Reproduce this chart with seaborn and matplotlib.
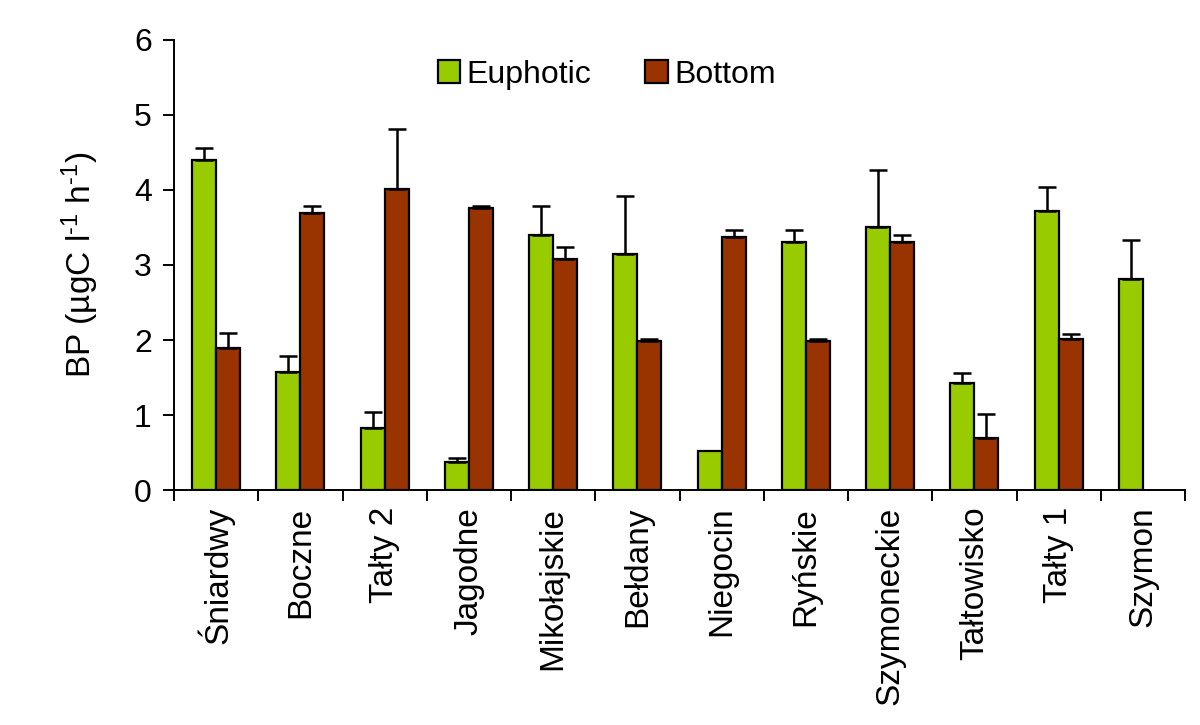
import numpy as np
import pandas as pd
import matplotlib
matplotlib.use("Agg")
import matplotlib.pyplot as plt
from matplotlib.ticker import FixedLocator, NullFormatter
import seaborn as sns

lakes = ["Śniardwy", "Boczne", "Tałty 2", "Jagodne", "Mikołajskie", "Bełdany",
         "Niegocin", "Ryńskie", "Szymoneckie", "Tałtowisko", "Tałty 1", "Szymon"]
euphotic = [4.40, 1.57, 0.83, 0.37, 3.40, 3.15, 0.52, 3.31, 3.50, 1.43, 3.72, 2.81]
euphotic_err = [0.16, 0.22, 0.21, 0.06, 0.39, 0.77, 0.0, 0.16, 0.77, 0.13, 0.32, 0.52]
bottom = [1.89, 3.69, 4.01, 3.76, 3.08, 1.99, 3.37, 1.99, 3.30, 0.69, 2.01, np.nan]
bottom_err = [0.21, 0.10, 0.80, 0.03, 0.16, 0.03, 0.10, 0.03, 0.10, 0.32, 0.07, np.nan]
series = ["Euphotic", "Bottom"]
colors = ["#99CC00", "#993300"]

sns.set_theme(style="white")
plt.rcParams["font.family"] = ["Liberation Sans", "DejaVu Sans"]
plt.rcParams["mathtext.fontset"] = "custom"
plt.rcParams["mathtext.rm"] = "Liberation Sans"
plt.rcParams["mathtext.it"] = "Liberation Sans"
plt.rcParams["text.color"] = "black"
plt.rcParams["xtick.color"] = "black"
plt.rcParams["ytick.color"] = "black"
plt.rcParams["axes.labelcolor"] = "black"

df = pd.DataFrame({
    "lake": lakes * 2,
    "value": euphotic + bottom,
    "err": euphotic_err + bottom_err,
    "series": [series[0]] * len(lakes) + [series[1]] * len(lakes),
})

fig = plt.figure(figsize=(12, 7.25), dpi=100)
ax = fig.add_axes([0.145, 0.324, 0.8425, 0.621])

sns.barplot(data=df, x="lake", y="value", hue="series", order=lakes,
            hue_order=series, palette=colors, width=0.57, gap=0,
            edgecolor="black", linewidth=1.6, errorbar=None, ax=ax,
            saturation=1)

# error bars (upper only)
errs = {series[0]: euphotic_err, series[1]: bottom_err}
for cont, s in zip(ax.containers, series):
    for bar in cont:
        h = bar.get_height()
        if not np.isfinite(h) or h == 0:
            continue
        xc = bar.get_x() + bar.get_width() / 2
        idx = int(round(xc))
        e = errs[s][idx]
        if not np.isfinite(e) or e <= 0:
            continue
        ax.errorbar([xc], [h], yerr=[[0], [e]], fmt="none", ecolor="black",
                    elinewidth=1.8, capsize=6.5, capthick=1.8, zorder=5)

ax.set_xlim(-0.5, len(lakes) - 0.5)
ax.set_ylim(0, 6)
ax.set_yticks(range(0, 7))
ax.tick_params(axis="y", which="major", direction="out", length=8, width=1.4,
               left=True, labelsize=23, pad=8, color="black")
ax.tick_params(axis="x", which="major", length=0, labelsize=24, pad=12)
ax.xaxis.set_minor_locator(FixedLocator(np.arange(-0.5, len(lakes), 1.0)))
ax.xaxis.set_minor_formatter(NullFormatter())
ax.tick_params(axis="x", which="minor", direction="out", length=8, width=1.4,
               bottom=True, color="black")
plt.setp(ax.get_xticklabels(), rotation=90)

ax.set_xlabel("")
ax.set_ylabel("BP (µgC l$^{\u20101}$ h$^{\u20101}$)", fontsize=24, labelpad=24)

for side in ["top", "right"]:
    ax.spines[side].set_visible(False)
for side in ["left", "bottom"]:
    ax.spines[side].set_color("black")
    ax.spines[side].set_linewidth(1.4)

handles, labels = ax.get_legend_handles_labels()
ax.legend(handles, labels, loc="upper center", bbox_to_anchor=(0.428, 1.02),
          ncol=2, frameon=False, fontsize=23, handlelength=0.7,
          handleheight=0.7, handletextpad=0.2, columnspacing=1.7)

fig.savefig("out.png", dpi=100)
